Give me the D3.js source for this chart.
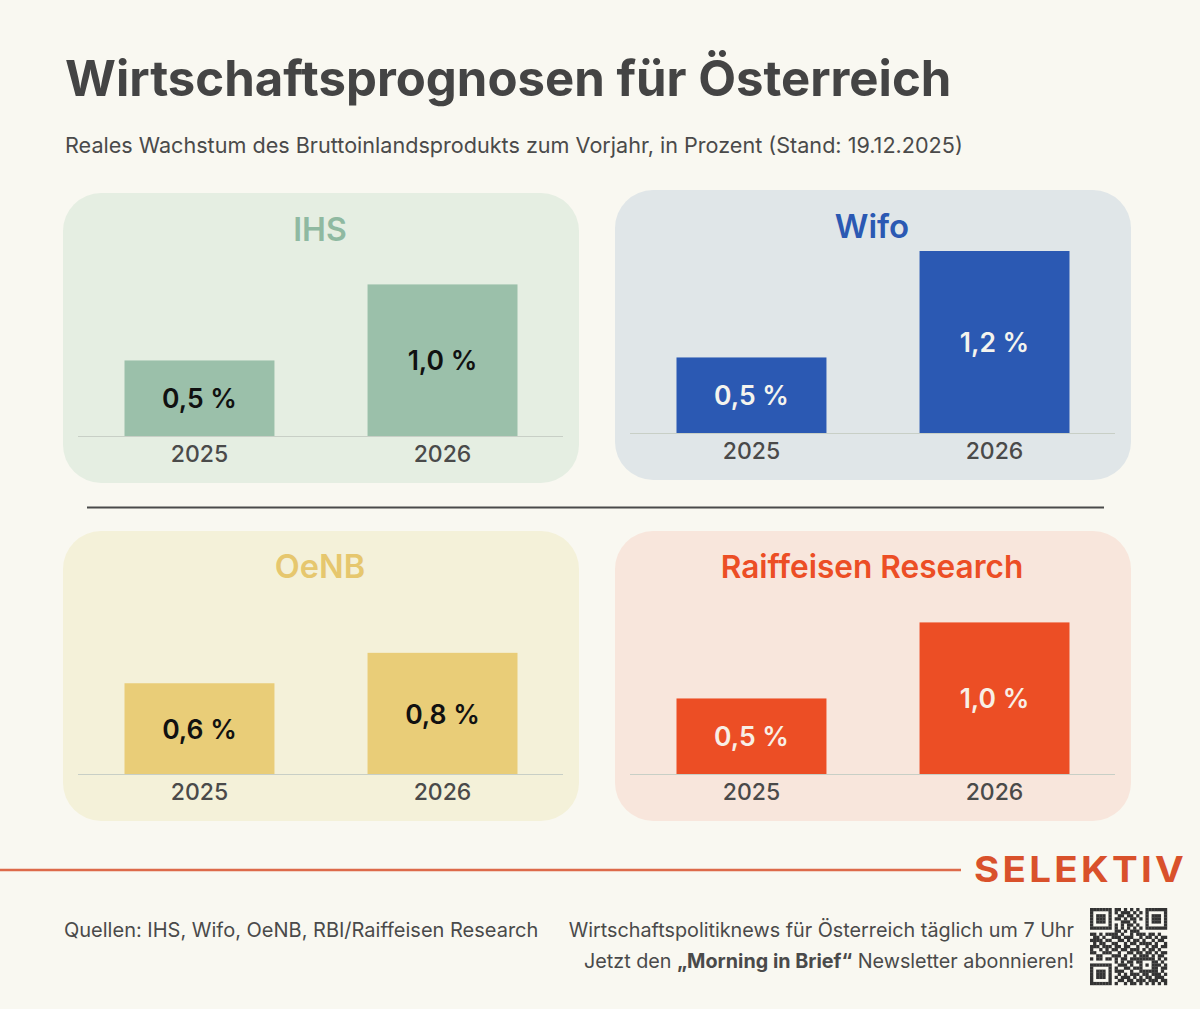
<!DOCTYPE html>
<html>
<head>
<meta charset="utf-8">
<script src="https://d3js.org/d3.v7.min.js"></script>
<style>
  html, body { margin: 0; padding: 0; background: #f9f8f1; }
  svg { display: block; font-family: Inter, Roboto, sans-serif; }
</style>
</head>
<body>
<div id="chart"></div>
<script>
// data
var years = ['2025', '2026'];
var institutes = ['IHS', 'Wifo', 'OeNB', 'Raiffeisen Research'];
var ihsValues = [0.5, 1.0];
var wifoValues = [0.5, 1.2];
var oenbValues = [0.6, 0.8];
var raiffeisenValues = [0.5, 1.0];
var allValues = [ihsValues, wifoValues, oenbValues, raiffeisenValues];

var titleText = 'Wirtschaftsprognosen für Österreich';
var subtitleText = 'Reales Wachstum des Bruttoinlandsprodukts zum Vorjahr, in Prozent (Stand: 19.12.2025)';
var sourceText = 'Quellen: IHS, Wifo, OeNB, RBI/Raiffeisen Research';

// qr code
var qrRows = [
  '1111111011010101001111111',
  '1000001010111010101000001',
  '1011101001101101001011101',
  '1011101011010110101011101',
  '1011101000111010001011101',
  '1000001010101101001000001',
  '1111111010101010101111111',
  '0000000011010111000000000',
  '1101011110100101110110100',
  '0110100111011100101101011',
  '1111011001101011010010110',
  '0101100110010110111101001',
  '1110111011011001001011011',
  '1001010110110111010110100',
  '1100111001001101101101011',
  '0011000111010010111010110',
  '1011011010110111111110101',
  '0000000010101101100011010',
  '1111111001110100101011101',
  '1000001010011011100011011',
  '1011101011100100111111010',
  '1011101001010111011011101',
  '1011101010111010101101110',
  '1000001001101101110111011',
  '1111111010010110101010101'
];

var width = 1200, height = 1009;
var svg = d3.select('#chart').append('svg').attr('width', width).attr('height', height);

svg.append('rect').attr('width', width).attr('height', height).attr('fill', '#f9f8f1');

// kopf
svg.append('text').attr('x', 65).attr('y', 96)
  .attr('font-size', 49.1).attr('font-weight', 700).attr('fill', '#444444')
  .text(titleText);
svg.append('text').attr('x', 65).attr('y', 153)
  .attr('font-size', 21.6).attr('fill', '#4a4a4a')
  .text(subtitleText);

// panels
var panelW = 516, panelH = 290;
var panelPos = [[63, 193], [615, 190], [63, 531], [615, 531]];
var panelFill = ['#e5eee2', '#e0e6e8', '#f4f1d9', '#f8e6dc'];
var barFill = ['#9bc0aa', '#2b59b3', '#e9cd78', '#ec4e25'];
var titleFill = ['#8fb9a1', '#2b59b3', '#e6c76e', '#ec4e25'];
var valueFill = ['#111111', '#f4f4ee', '#111111', '#f8efe6'];
var titleY = [48, 48, 47, 47];
var titleSize = [32, 33, 32.5, 31.6];

var x = d3.scaleBand().domain(years).range([61.5, 454.5]).paddingInner(0.383).paddingOuter(0);
var y = d3.scaleLinear().domain([0, 1.2]).range([243.5, 61]);

institutes.forEach(function(name, i) {
  var values = allValues[i];
  var g = svg.append('g').attr('transform', 'translate(' + panelPos[i][0] + ',' + panelPos[i][1] + ')');

  g.append('rect').attr('width', panelW).attr('height', panelH).attr('rx', 38)
    .attr('fill', panelFill[i]);

  g.append('text').attr('x', 257).attr('y', titleY[i])
    .attr('text-anchor', 'middle').attr('font-size', titleSize[i]).attr('font-weight', 600)
    .attr('fill', titleFill[i]).text(name);

  g.selectAll('rect.bar').data(values).enter().append('rect')
    .attr('class', 'bar')
    .attr('x', function(d, j) { return x(years[j]); })
    .attr('y', function(d) { return y(d); })
    .attr('width', x.bandwidth())
    .attr('height', function(d) { return y(0) - y(d); })
    .attr('fill', barFill[i]);

  g.selectAll('text.val').data(values).enter().append('text')
    .attr('class', 'val')
    .attr('x', function(d, j) { return x(years[j]) + x.bandwidth() / 2; })
    .attr('y', function(d) { return (y(d) + y(0)) / 2 + 10; })
    .attr('text-anchor', 'middle').attr('font-size', 26.5).attr('font-weight', 600)
    .attr('fill', valueFill[i])
    .text(function(d) { return d3.format('.1f')(d).replace('.', ',') + ' %'; });

  // achse
  var axis = d3.axisBottom(x).tickSize(0).tickPadding(9);
  var ax = g.append('g').attr('transform', 'translate(0,' + y(0) + ')').call(axis);
  ax.select('.domain').remove();
  ax.selectAll('text').attr('font-family', 'Inter, Roboto, sans-serif')
    .attr('font-size', 23).attr('font-weight', 500).attr('fill', '#4a4a4a');
  g.append('line').attr('x1', 15).attr('x2', 500).attr('y1', y(0)).attr('y2', y(0))
    .attr('stroke', '#c8cfc6').attr('stroke-width', 1.2);
});

// trennlinie
svg.append('line').attr('x1', 87).attr('x2', 1104).attr('y1', 507.5).attr('y2', 507.5)
  .attr('stroke', '#4a4a4a').attr('stroke-width', 2);

// fuss
svg.append('line').attr('x1', 0).attr('x2', 961).attr('y1', 870).attr('y2', 870)
  .attr('stroke', '#dd6a4a').attr('stroke-width', 2.4);
svg.append('text').attr('transform', 'translate(974,882) scale(1.1,1)')
  .attr('font-size', 35).attr('font-weight', 700).attr('letter-spacing', 3).attr('fill', '#d9512b')
  .text('SELEKTIV');

svg.append('text').attr('x', 64).attr('y', 937)
  .attr('font-size', 20).attr('fill', '#4a4a4a').text(sourceText);
svg.append('text').attr('x', 1074).attr('y', 937).attr('text-anchor', 'end')
  .attr('font-size', 19.8).attr('fill', '#4a4a4a')
  .text('Wirtschaftspolitiknews für Österreich täglich um 7 Uhr');
var cta = svg.append('text').attr('x', 1074).attr('y', 968).attr('text-anchor', 'end')
  .attr('font-size', 19.75).attr('fill', '#4a4a4a');
cta.append('tspan').text('Jetzt den ');
cta.append('tspan').attr('font-weight', 700).text('„Morning in Brief“');
cta.append('tspan').text(' Newsletter abonnieren!');

// qr
var qrScale = d3.scaleBand().domain(d3.range(qrRows[0].length)).range([0, 77]);
var qr = svg.append('g').attr('transform', 'translate(1090,908)');
qrRows.forEach(function(row, r) {
  row.split('').forEach(function(c, k) {
    if (c === '1') {
      qr.append('rect').attr('x', qrScale(k)).attr('y', qrScale(r))
        .attr('width', qrScale.bandwidth() + 0.2).attr('height', qrScale.bandwidth() + 0.2)
        .attr('fill', '#333333');
    }
  });
});
</script>
</body>
</html>
